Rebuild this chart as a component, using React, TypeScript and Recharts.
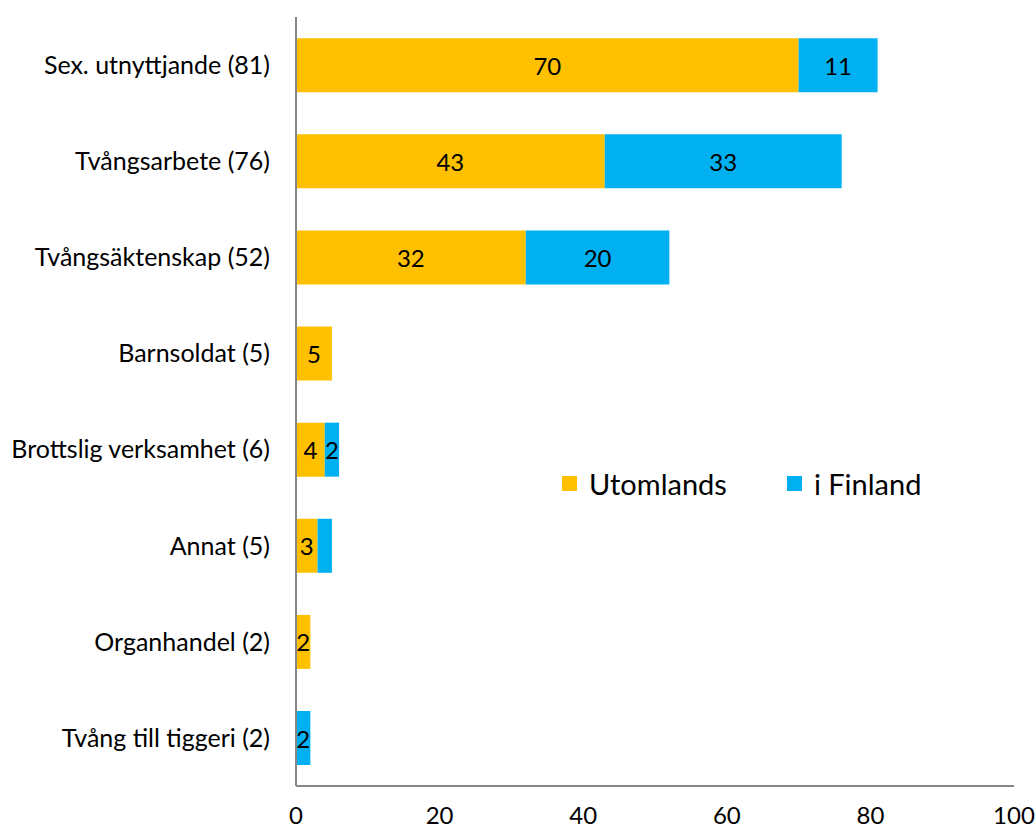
import React from 'react';
import { BarChart, Bar, XAxis, YAxis, Legend, LabelList } from 'recharts';

const categories = [
  'Sex. utnyttjande (81)',
  'Tvångsarbete (76)',
  'Tvångsäktenskap (52)',
  'Barnsoldat (5)',
  'Brottslig verksamhet (6)',
  'Annat (5)',
  'Organhandel (2)',
  'Tvång till tiggeri (2)',
];
const utomlands = [70, 43, 32, 5, 4, 3, 2, 0];
const iFinland = [11, 33, 20, 0, 2, 2, 0, 2];
// the chart leaves out the "i Finland" label on this row
const hiddenFinlandLabels = ['Annat (5)'];
const xTicks = [0, 20, 40, 60, 80, 100];

const YELLOW = '#FFC000';
const BLUE = '#00B0F0';
const FONT = 'Lato, "Open Sans", sans-serif';

const data = categories.map((name, i) => ({
  name,
  utomlands: utomlands[i],
  iFinland: iFinland[i],
  utLabel: utomlands[i] || '',
  fiLabel: hiddenFinlandLabels.includes(name) ? '' : iFinland[i] || '',
}));

// Value label centred in the bar segment, skipped when empty
const renderValue = (props: any) => {
  const { x, y, width, height, value } = props;
  if (value === '' || value == null) return null;
  return (
    <text
      x={x + width / 2}
      y={y + height / 2}
      textAnchor="middle"
      dominantBaseline="central"
      fontSize={24}
      fontFamily={FONT}
      fill="#000"
    >
      {value}
    </text>
  );
};

const renderLegend = () => (
  <div style={{ display: 'flex', alignItems: 'center', fontFamily: FONT, fontSize: 29, color: '#000', lineHeight: 1 }}>
    <span style={{ width: 15, height: 15, background: YELLOW, display: 'inline-block', marginRight: 12 }} />
    <span style={{ marginRight: 60 }}>Utomlands</span>
    <span style={{ width: 15, height: 15, background: BLUE, display: 'inline-block', marginRight: 12 }} />
    <span>i Finland</span>
  </div>
);

const App = () => {
  return (
    <div style={{ position: 'absolute', left: 0, top: 0, width: 1036, height: 830, background: '#fff' }}>
      <BarChart
        width={1036}
        height={830}
        data={data}
        layout="vertical"
        margin={{ top: 17, right: 22, left: 6, bottom: 14 }}
        barCategoryGap="22%"
      >
        <XAxis
          type="number"
          domain={[0, 100]}
          ticks={xTicks}
          interval={0}
          tickLine={false}
          tickSize={0}
          tickMargin={21}
          height={30}
          axisLine={{ stroke: '#868686', strokeWidth: 2 }}
          tick={{ fontSize: 24, fontFamily: FONT, fill: '#000' }}
        />
        <YAxis
          type="category"
          dataKey="name"
          width={290}
          tickLine={false}
          tickSize={0}
          tickMargin={26}
          interval={0}
          axisLine={{ stroke: '#868686', strokeWidth: 2 }}
          tick={{ fontSize: 25, fontFamily: FONT, fill: '#000' }}
        />
        <Legend
          verticalAlign="middle"
          align="center"
          layout="horizontal"
          content={renderLegend}
          wrapperStyle={{ position: 'absolute', left: 562, top: 469, width: 'auto' }}
        />
        <Bar dataKey="utomlands" stackId="a" fill={YELLOW} isAnimationActive={false}>
          <LabelList dataKey="utLabel" content={renderValue} />
        </Bar>
        <Bar dataKey="iFinland" stackId="a" fill={BLUE} isAnimationActive={false}>
          <LabelList dataKey="fiLabel" content={renderValue} />
        </Bar>
      </BarChart>
    </div>
  );
};

export default App;
